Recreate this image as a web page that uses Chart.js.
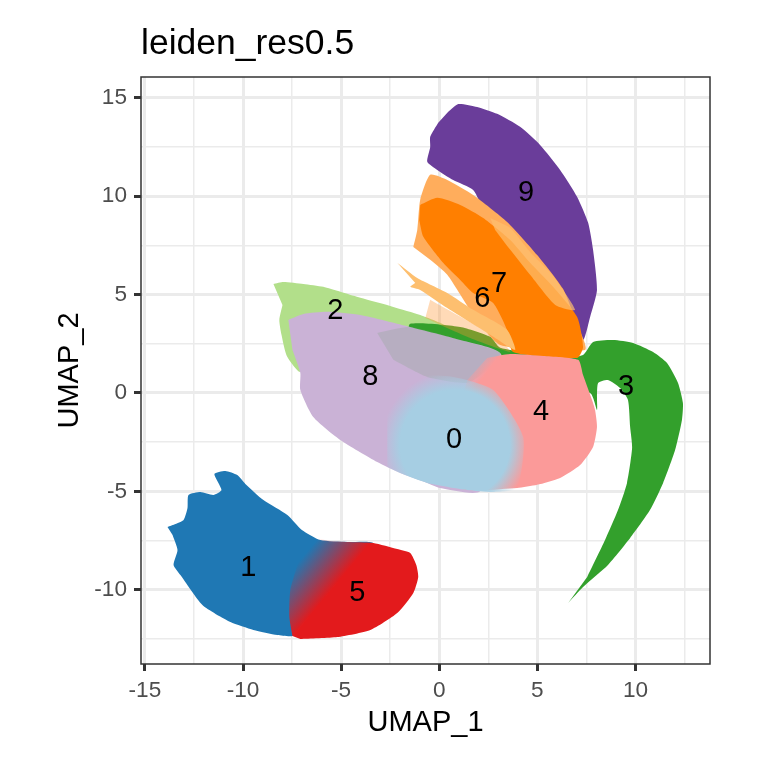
<!DOCTYPE html>
<html>
<head>
<meta charset="utf-8">
<title>leiden_res0.5</title>
<script src="https://cdn.jsdelivr.net/npm/chart.js@4"></script>
<style>
  html, body { margin: 0; padding: 0; background: #fff; }
  canvas { display: block; }
</style>
</head>
<body>
<canvas id="umap" width="768" height="768"></canvas>
<script>
// cluster outlines, [UMAP_1, UMAP_2]
const cluster0 = [[-2.65,-3.76],[-1.99,-4.07],[-0.61,-4.57],[1.43,-4.93],[2.75,-5.03],[3.97,-4.83],[4.28,-2.24],[2.75,0.15],[0.71,0.81],[-1.48,0.81],[-2.65,-0.51]];
const cluster1 = [[-13.85,-6.81],[-13.44,-6.66],[-13.03,-6.45],[-12.83,-5.84],[-12.78,-5.18],[-12.17,-5.03],[-11.51,-5.18],[-11.10,-4.93],[-11.46,-4.12],[-10.90,-3.96],[-10.29,-4.17],[-9.88,-4.62],[-8.96,-5.44],[-7.74,-6.20],[-7.00,-6.96],[-6.06,-7.47],[-4.68,-7.57],[-3.36,-7.62],[-3.60,-8.60],[-5.21,-9.67],[-6.20,-10.90],[-7.20,-12.00],[-7.48,-12.35],[-8.25,-12.30],[-9.47,-12.04],[-10.64,-11.64],[-12.07,-10.77],[-13.19,-9.25],[-13.54,-8.74],[-13.34,-7.98],[-13.59,-7.22]];
const cluster2 = [[-8.45,5.54],[-7.94,5.64],[-6.92,5.54],[-5.91,5.39],[-4.02,4.83],[-2.34,4.37],[-0.97,3.96],[0.41,3.35],[-0.97,2.95],[-5.55,2.69],[-7.08,1.07],[-7.38,1.32],[-7.79,1.93],[-8.04,2.95],[-8.15,3.71],[-7.99,4.47]];
const cluster3 = [[6.57,-10.67],[7.33,-9.86],[8.60,-8.74],[9.73,-7.37],[10.74,-5.95],[11.41,-4.57],[12.02,-2.90],[12.37,-1.37],[12.42,-0.51],[12.17,0.51],[11.61,1.52],[10.90,2.08],[9.88,2.54],[8.86,2.69],[7.84,2.59],[7.33,1.93],[6.16,1.78],[3.11,2.29],[2.60,2.85],[1.07,3.35],[-1.48,3.51],[-1.48,2.69],[3.11,1.17],[7.69,0],[8.04,-0.86],[8.04,-0.20],[8.10,0.51],[8.60,0.66],[9.22,0.25],[9.62,-0.36],[9.73,-1.73],[9.83,-2.79],[9.57,-4.57],[9.11,-5.95],[8.45,-7.47],[7.54,-9.35]];
const cluster3Mixed = [[-3.16,3.05],[-1.48,3.35],[1.07,2.69],[3.11,2.03],[2.44,1.17],[1.43,0.51],[-0.61,0.81],[-2.34,1.68]];
const cluster4 = [[2.44,1.78],[3.62,1.98],[5.30,1.88],[7.08,1.68],[7.33,0.91],[7.79,-0.36],[7.94,-0.86],[8.04,-1.73],[7.84,-2.74],[7.18,-3.66],[6.16,-4.32],[4.99,-4.67],[3.97,-4.83],[1.07,-4.83],[0.56,-2.54],[1.43,0.66]];
const cluster5 = [[-7.48,-12.35],[-7.64,-11.38],[-7.59,-10.01],[-7.08,-8.23],[-6.82,-7.01],[-6.21,-7.37],[-5.55,-7.52],[-4.68,-7.57],[-3.36,-7.62],[-2.14,-7.93],[-1.48,-8.13],[-1.17,-8.74],[-1.07,-9.35],[-1.32,-10.16],[-2.14,-11.18],[-3.51,-12.04],[-5.19,-12.40],[-7.08,-12.50]];
const cluster6 = [[-2.14,6.61],[-1.12,5.84],[0.41,5.08],[1.73,4.22],[3.46,3.20],[3.87,2.18],[2.60,2.95],[0.41,4.31],[-0.97,5.23],[-1.48,5.39],[-1.22,5.59]];
const cluster6Arc = [[2.60,8.89],[3.62,8.38],[4.63,7.16],[5.75,6.00],[6.92,4.22],[5.91,4.47],[4.63,6.00],[3.62,7.27],[2.85,8.28]];
const cluster7 = [[-0.97,9.55],[-0.10,9.91],[1.07,9.55],[2.24,8.89],[3.62,7.77],[4.63,6.61],[5.80,5.39],[7.03,3.86],[7.33,2.34],[7.03,1.78],[3.77,2.08],[3.46,3.20],[2.75,4.57],[1.73,5.08],[1.07,5.74],[0.20,6.61],[-0.81,7.93],[-1.02,8.79]];
const cluster7Sparse = [[-1.32,7.42],[-1.12,8.28],[-0.97,9.81],[-0.46,11.08],[0.41,10.82],[1.73,10.06],[3.46,8.69],[4.99,7.01],[6.30,5.30],[7.00,3.56],[7.43,2.18],[3.11,2.44],[1.58,4.22],[0.41,6.00],[-0.46,6.76]];
const cluster7Low = [[-0.46,4.73],[3.11,2.69],[3.62,2.08],[1.58,2.79],[-0.71,3.81]];
const cluster8 = [[-7.69,3.71],[-6.92,4.01],[-5.70,4.12],[-4.02,3.96],[-1.48,3.35],[1.07,2.69],[3.11,2.03],[3.62,-0.36],[2.09,-4.98],[0.05,-4.83],[-0.61,-4.57],[-1.99,-4.07],[-3.16,-3.51],[-5.04,-2.39],[-6.42,-1.22],[-7.08,0.15],[-7.08,1.02],[-7.48,2.18]];
const cluster9 = [[0.46,14.28],[0.97,14.68],[1.93,14.53],[2.95,14.18],[4.12,13.52],[5.14,12.60],[6.16,11.33],[7.03,9.96],[7.59,8.64],[7.84,7.27],[8.04,5.23],[7.69,3.86],[7.33,2.69],[6.67,3.71],[5.91,5.49],[4.63,7.01],[3.36,8.38],[2.34,9.20],[1.73,10.31],[0.71,10.82],[-0.10,11.33],[-0.61,11.74],[-0.46,12.50],[-0.46,13.01],[-0.05,13.72]];

const labelText = ["0", "1", "2", "3", "4", "5", "6", "7", "8", "9"];
const labelX = [0.76, -9.73, -5.30, 9.52, 5.19, -4.18, 2.19, 3.05, -3.51, 4.43];
const labelY = [-2.37, -8.87, 4.14, 0.28, -0.99, -10.14, 4.75, 5.51, 0.83, 10.18];

const gridX = [-15, -12.5, -10, -7.5, -5, -2.5, 0, 2.5, 5, 7.5, 10, 12.5];
const gridY = [-12.5, -10, -7.5, -5, -2.5, 0, 2.5, 5, 7.5, 10, 12.5, 15];

function rgba(c, a) { return `rgba(${c},${a})`; }

// fade a cluster in along a line given in data units (cells mix at the borders)
function linearFade(c, x0, y0, x1, y1) {
  return ctx => {
    const { x, y } = ctx.chart.scales;
    if (!ctx.chart.chartArea) return rgba(c, 1);
    const g = ctx.chart.ctx.createLinearGradient(x.getPixelForValue(x0), y.getPixelForValue(y0), x.getPixelForValue(x1), y.getPixelForValue(y1));
    g.addColorStop(0, rgba(c, 0));
    g.addColorStop(1, rgba(c, 1));
    return g;
  };
}

function radialFade(c, cx, cy, r0, r1) {
  return ctx => {
    const { x, y } = ctx.chart.scales;
    if (!ctx.chart.chartArea) return rgba(c, 1);
    const px = x.getPixelForValue(cx), py = y.getPixelForValue(cy);
    const unit = x.getPixelForValue(1) - x.getPixelForValue(0);
    const g = ctx.chart.ctx.createRadialGradient(px, py, r0 * unit, px, py, r1 * unit);
    g.addColorStop(0, rgba(c, 1));
    g.addColorStop(1, rgba(c, 0));
    return g;
  };
}

// bottom to top
const layers = [
  { name: "2", points: cluster2, color: "#B2DF8A" },
  { name: "3", points: cluster3, color: "#33A02C" },
  { name: "9", points: cluster9, color: "#6A3D9A" },
  { name: "7 sparse", points: cluster7Sparse, color: "#FFAD5C" },
  { name: "7 low", points: cluster7Low, color: "rgba(255,150,50,0.35)" },
  { name: "7", points: cluster7, color: "#FF7F00" },
  { name: "6 arc", points: cluster6Arc, color: "rgba(253,191,111,0.7)" },
  { name: "6", points: cluster6, color: "#FDBF6F" },
  { name: "8", points: cluster8, color: "#CAB2D6" },
  { name: "3 mixed", points: cluster3Mixed, color: "rgba(110,160,110,0.2)" },
  { name: "4", points: cluster4, color: linearFade("251,154,153", 1.58, 1.34, 2.26, 0.83) },
  { name: "0", points: cluster0, color: radialFade("166,206,227", 0.81, -2.64, 2.8, 3.8) },
  { name: "1", points: cluster1, color: "#1F78B4" },
  { name: "5", points: cluster5, color: linearFade("227,26,28", -6.91, -8.27, -5.21, -9.67) },
];

const datasets = layers.map((l, i) => ({
  label: l.name,
  data: l.points.map(p => ({ x: p[0], y: p[1] })),
  showLine: true,
  fill: "shape",
  tension: 0.2,
  backgroundColor: l.color,
  borderWidth: 0,
  pointRadius: 0,
  order: layers.length - i,
}));

// panel border and cluster numbers
const panelPlugin = {
  id: "panel",
  afterDatasetsDraw(chart) {
    const { ctx, chartArea: a, scales } = chart;
    ctx.save();
    ctx.fillStyle = "#000";
    ctx.font = '29px "Liberation Sans"';
    ctx.textAlign = "center";
    ctx.textBaseline = "middle";
    labelText.forEach((t, i) => {
      ctx.fillText(t, scales.x.getPixelForValue(labelX[i]), scales.y.getPixelForValue(labelY[i]));
    });
    ctx.strokeStyle = "#333333";
    ctx.lineWidth = 1.5;
    ctx.strokeRect(a.left, a.top, a.right - a.left, a.bottom - a.top);
    ctx.restore();
  },
};

function isMajor(v) { return v % 5 === 0; }

function axis(min, max, grid, title, fitter, tickPadding) {
  return {
    type: "linear",
    min,
    max,
    afterBuildTicks: s => { s.ticks = grid.map(v => ({ value: v })); },
    afterFit: fitter,
    border: { display: false },
    grid: {
      color: "#EBEBEB",
      lineWidth: c => (isMajor(c.tick.value) ? 3 : 1.5),
      tickLength: 7,
      tickColor: "#333333",
      tickWidth: c => (isMajor(c.tick.value) ? 3 : 0),
    },
    ticks: {
      autoSkip: false,
      maxRotation: 0,
      padding: tickPadding,
      color: "#4D4D4D",
      font: { family: "Liberation Sans", size: 22.6 },
      callback: v => (isMajor(v) ? String(v) : ""),
    },
    title: {
      display: true,
      text: title,
      color: "#000",
      padding: 0,
      font: { family: "Liberation Sans", size: 29 },
    },
  };
}

new Chart(document.getElementById("umap"), {
  type: "scatter",
  data: { datasets },
  options: {
    responsive: false,
    animation: false,
    events: [],
    layout: { padding: { left: 53, right: 58, top: 0, bottom: 28 } },
    plugins: {
      legend: { display: false },
      tooltip: { enabled: false },
      title: {
        display: true,
        fullSize: false,
        text: "leiden_res0.5",
        align: "start",
        color: "#000",
        padding: { top: 23, bottom: 11.4 },
        font: { family: "Liberation Sans", size: 35.5, weight: "normal" },
      },
    },
    scales: {
      x: axis(-15.2, 13.8, gridX, "UMAP_1", s => { s.height = 76; }, 6),
      y: axis(-13.77, 16.05, gridY, "UMAP_2", s => { s.width = 88; }, 7),
    },
  },
  plugins: [panelPlugin],
});
</script>
</body>
</html>
